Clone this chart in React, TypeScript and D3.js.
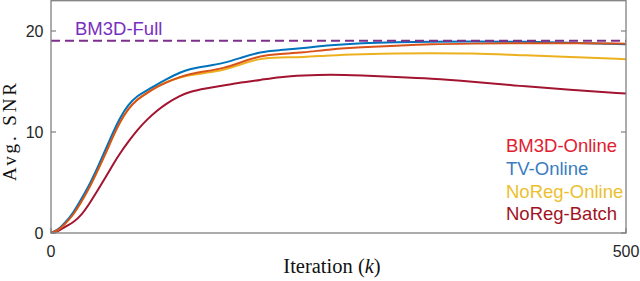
import * as d3 from 'd3';

// iteration grid
const iters = [0, 6, 12, 20, 26, 34, 41, 48, 54, 60, 67, 75, 84, 92, 100, 112, 121, 134, 150, 165, 182, 199, 219, 243, 270, 300, 330, 365, 408, 450, 500];

const bm3dOnline = [0, 0.25, 0.85, 1.9, 3.0, 4.6, 6.3, 8.0, 9.6, 11.0, 12.3, 13.25, 13.9, 14.45, 14.9, 15.45, 15.75, 16.0, 16.3, 16.9, 17.55, 17.75, 17.85, 18.2, 18.4, 18.55, 18.7, 18.75, 18.8, 18.8, 18.75];
const tvOnline = [0, 0.3, 0.96, 2.1, 3.3, 4.9, 6.6, 8.4, 10.0, 11.4, 12.7, 13.6, 14.15, 14.7, 15.2, 15.9, 16.25, 16.5, 16.8, 17.35, 17.95, 18.1, 18.3, 18.6, 18.8, 18.9, 18.95, 18.97, 18.95, 18.85, 18.7];
const noRegOnline = [0, 0.25, 0.85, 1.9, 3.0, 4.6, 6.3, 8.0, 9.6, 11.0, 12.3, 13.25, 13.95, 14.5, 14.95, 15.4, 15.65, 15.85, 16.1, 16.7, 17.3, 17.4, 17.4, 17.6, 17.7, 17.8, 17.8, 17.8, 17.6, 17.45, 17.2];
const noRegBatch = [0, 0.15, 0.6, 1.1, 1.7, 3.0, 4.3, 5.6, 6.8, 7.9, 9.0, 10.2, 11.3, 12.1, 12.8, 13.6, 14.0, 14.3, 14.6, 14.9, 15.15, 15.45, 15.6, 15.7, 15.6, 15.45, 15.3, 15.0, 14.55, 14.2, 13.8];
const bm3dFull = 19.04;

const xTicks = [0, 500];
const yTicks = [0, 10, 20];

const series = [
  { name: 'NoReg-Batch', values: noRegBatch, color: '#A2142F', text: '#a0141f' },
  { name: 'NoReg-Online', values: noRegOnline, color: '#EDB120', text: '#ecbf30' },
  { name: 'TV-Online', values: tvOnline, color: '#0072BD', text: '#3a7cc0' },
  { name: 'BM3D-Online', values: bm3dOnline, color: '#D95319', text: '#e02030' },
];
const legendOrder = ['BM3D-Online', 'TV-Online', 'NoReg-Online', 'NoReg-Batch'];

const W = 640;
const H = 281;
const left = 51;
const right = 626;
const top = 0.7;
const bottom = 233;

export default function App() {
  const x = d3.scaleLinear().domain([0, 500]).range([left, right]);
  const y = d3.scaleLinear().domain([0, 23]).range([bottom, top]);

  const line = d3.line<number>()
    .x((_, i) => x(iters[i]))
    .y(d => y(d))
    .curve(d3.curveBasis);

  const axisColor = '#808080';
  const tickColor = '#262626';
  const sans = '"Liberation Sans", Arial, sans-serif';
  const serif = '"Liberation Serif", "Times New Roman", serif';

  return (
    <svg width={W} height={H} style={{ position: 'absolute', left: 0, top: 0 }}>
      <rect x={0} y={0} width={W} height={H} fill="#fff" />

      {series.map(s => (
        <path key={s.name} d={line(s.values) ?? ''} fill="none" stroke={s.color} strokeWidth={2} />
      ))}

      <line x1={x(0)} x2={x(500)} y1={y(bm3dFull)} y2={y(bm3dFull)}
        stroke="#7E2F8E" strokeWidth={2} strokeDasharray="9,5" />
      <text x={75} y={35} fontFamily={sans} fontSize={18.5} fill="#7a2ec0">BM3D-Full</text>

      {/* axes box */}
      <rect x={left} y={top} width={right - left} height={bottom - top} fill="none" stroke={axisColor} strokeWidth={1.3} />

      {yTicks.map(t => (
        <g key={'y' + t}>
          <line x1={left} x2={left + 5} y1={y(t)} y2={y(t)} stroke={axisColor} strokeWidth={1.2} />
          <line x1={right} x2={right - 5} y1={y(t)} y2={y(t)} stroke={axisColor} strokeWidth={1.2} />
          <text x={left - 7.5} y={y(t)} dy="0.36em" textAnchor="end" fontFamily={sans} fontSize={16} fill={tickColor}>{t}</text>
        </g>
      ))}
      {xTicks.map(t => (
        <g key={'x' + t}>
          <line x1={x(t)} x2={x(t)} y1={bottom} y2={bottom - 5} stroke={axisColor} strokeWidth={1.2} />
          <text x={x(t)} y={257} textAnchor="middle" fontFamily={sans} fontSize={16} fill={tickColor}>{t}</text>
        </g>
      ))}

      <text x={332} y={273} textAnchor="middle" fontFamily={serif} fontSize={20.5} fill="#111">
        Iteration (<tspan fontStyle="italic">k</tspan>)
      </text>
      <text transform="translate(15.5,132) rotate(-90)" textAnchor="middle" fontFamily={serif} fontSize={19}
        textLength={98} lengthAdjust="spacing" fill="#111">
        Avg. SNR
      </text>

      {legendOrder.map((n, i) => {
        const s = series.find(d => d.name === n)!;
        return (
          <text key={n} x={506} y={152.3 + i * 22.6} fontFamily={sans} fontSize={18.5} fill={s.text}>{n}</text>
        );
      })}
    </svg>
  );
}
